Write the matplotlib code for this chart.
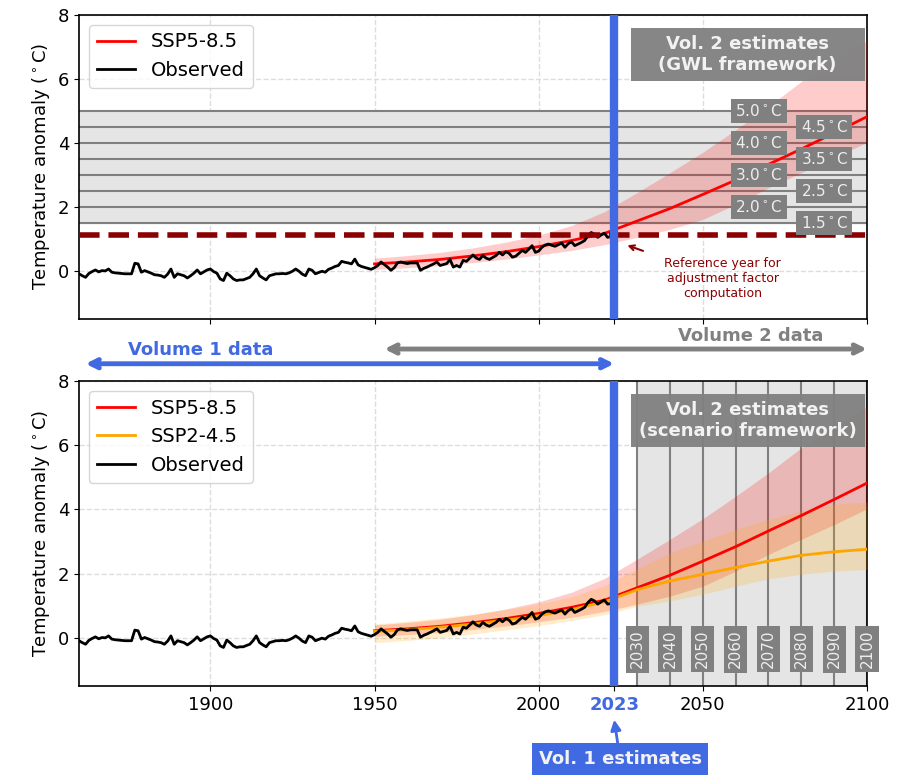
import numpy as np
import matplotlib.pyplot as plt
from matplotlib.patches import Rectangle

# observed annual anomaly, 1860-2023
obs_years = np.arange(1860, 2024)
obs_vals = [
    -0.09, -0.15, -0.20, -0.08, -0.02, 0.03, -0.03, 0.01, 0.00, 0.06,
    -0.04, -0.06, -0.07, -0.08, -0.09, -0.09, -0.09, 0.24, 0.22, -0.04,
    0.01, -0.03, -0.07, -0.12, -0.13, -0.15, -0.20, -0.10, 0.06, -0.20,
    -0.09, -0.12, -0.15, -0.22, -0.15, -0.07, 0.03, -0.09, -0.03, 0.03,
    0.06, -0.02, -0.07, -0.25, -0.30, -0.07, -0.15, -0.25, -0.30, -0.28,
    -0.28, -0.24, -0.20, -0.09, 0.06, -0.15, -0.22, -0.28, -0.15, -0.12,
    -0.09, -0.09, -0.08, -0.09, -0.06, -0.01, 0.06, -0.01, -0.10, -0.15,
    0.06, 0.02, -0.09, -0.05, -0.01, -0.04, 0.05, 0.09, 0.14, 0.17,
    0.30, 0.27, 0.25, 0.22, 0.37, 0.19, 0.14, 0.11, 0.08, 0.05,
    0.10, 0.17, 0.28, 0.20, 0.12, 0.02, 0.10, 0.25, 0.28, 0.25,
    0.23, 0.25, 0.25, 0.25, 0.02, 0.08, 0.12, 0.17, 0.22, 0.28,
    0.17, 0.20, 0.23, 0.36, 0.12, 0.17, 0.12, 0.33, 0.30, 0.40,
    0.50, 0.40, 0.36, 0.48, 0.40, 0.36, 0.42, 0.48, 0.58, 0.50,
    0.60, 0.55, 0.43, 0.46, 0.55, 0.64, 0.58, 0.68, 0.79, 0.58,
    0.62, 0.74, 0.81, 0.84, 0.80, 0.77, 0.82, 0.87, 0.74, 0.85,
    0.91, 0.79, 0.84, 0.89, 0.95, 1.10, 1.20, 1.15, 1.05, 1.12,
    1.18, 1.05, 1.07, 1.10,
]

# scenario projections (median and range)
ssp_years = [1950, 1960, 1970, 1980, 1990, 2000, 2010, 2020,
             2030, 2040, 2050, 2060, 2070, 2080, 2090, 2100]
ssp585_mid = [0.22, 0.28, 0.36, 0.47, 0.60, 0.76, 0.95, 1.17,
              1.56, 1.95, 2.39, 2.84, 3.33, 3.81, 4.31, 4.82]
ssp585_lo = [0.05, 0.10, 0.17, 0.26, 0.37, 0.50, 0.64, 0.82,
             1.05, 1.30, 1.61, 2.08, 2.60, 3.07, 3.53, 4.02]
ssp585_hi = [0.40, 0.48, 0.58, 0.72, 0.90, 1.12, 1.42, 1.85,
             2.45, 3.07, 3.71, 4.41, 5.14, 5.92, 6.60, 7.20]
ssp245_mid = [0.20, 0.25, 0.33, 0.43, 0.55, 0.69, 0.88, 1.12,
              1.50, 1.77, 1.98, 2.19, 2.39, 2.57, 2.68, 2.76]
ssp245_lo = [-0.15, -0.08, 0.00, 0.12, 0.25, 0.38, 0.54, 0.72,
             0.99, 1.15, 1.36, 1.61, 1.84, 1.98, 2.08, 2.13]
ssp245_hi = [0.43, 0.52, 0.62, 0.74, 0.88, 1.05, 1.28, 1.62,
             2.15, 2.65, 3.01, 3.38, 3.69, 3.95, 4.16, 4.23]

gwl_levels = [1.5, 2.0, 2.5, 3.0, 3.5, 4.0, 4.5, 5.0]
decades = [2030, 2040, 2050, 2060, 2070, 2080, 2090, 2100]
ref_year = 2023
ref_level = 1.13

fig = plt.figure(figsize=(9.05, 7.76), dpi=100)
ax1 = fig.add_axes([0.0873, 0.589, 0.8707, 0.3918])
ax2 = fig.add_axes([0.0873, 0.116, 0.8707, 0.393], sharex=ax1)

lbl_box = dict(facecolor='gray', edgecolor='none', pad=3)


def title_box(ax, txt):
    ax.add_patch(Rectangle((0.70, 0.783), 0.297, 0.174, transform=ax.transAxes,
                           facecolor='gray', edgecolor='none', alpha=0.95, zorder=7))
    ax.text(0.8485, 0.870, txt, transform=ax.transAxes, ha='center', va='center',
            fontsize=13, fontweight='bold', color='#f2f2f2', zorder=8)


# ---- top panel: GWL framework
ax1.axhspan(gwl_levels[0], gwl_levels[-1], color='#e5e5e5', zorder=2)
for lvl in gwl_levels:
    ax1.axhline(lvl, color='gray', lw=1.5, zorder=2.5)
ax1.fill_between(ssp_years, ssp585_lo, ssp585_hi, color='red', alpha=0.2, lw=0, zorder=3)
ax1.plot(ssp_years, ssp585_mid, color='red', lw=2, label='SSP5-8.5', zorder=4)
ax1.plot(obs_years, obs_vals, color='black', lw=2, label='Observed', zorder=5)
ax1.axhline(ref_level, color='darkred', ls='--', lw=4, zorder=5)
ax1.axvline(ref_year, color='royalblue', lw=6, zorder=6)
for i, lvl in enumerate(gwl_levels):
    xl = 2087 if i % 2 == 0 else 2067
    ax1.text(xl, lvl, f'{lvl:.1f}$^\\circ$C', ha='center', va='center', fontsize=11,
             color='#eeeeee', bbox=lbl_box, zorder=7)
title_box(ax1, 'Vol. 2 estimates\n(GWL framework)')
ax1.annotate('Reference year for\nadjustment factor\ncomputation', xy=(2027, 0.8),
             xytext=(2056, -0.25), ha='center', va='center', fontsize=9, color='darkred',
             arrowprops=dict(arrowstyle='->', color='darkred', lw=1.5, shrinkA=14, shrinkB=0),
             zorder=7)
ax1.legend(loc='upper left', fontsize=14)

# volume arrows between panels
ax1.annotate('', xy=(1953, -2.44), xytext=(2100, -2.44), annotation_clip=False,
             arrowprops=dict(arrowstyle='<->', color='gray', lw=3.5, mutation_scale=15,
                             shrinkA=0, shrinkB=0))
ax1.text(2064.5, -2.02, 'Volume 2 data', ha='center', va='center', fontsize=13,
         fontweight='bold', color='gray', clip_on=False)
ax1.annotate('', xy=(1862, -2.9), xytext=(2023, -2.9), annotation_clip=False,
             arrowprops=dict(arrowstyle='<->', color='royalblue', lw=3.5, mutation_scale=15,
                             shrinkA=0, shrinkB=0))
ax1.text(1897, -2.48, 'Volume 1 data', ha='center', va='center', fontsize=13,
         fontweight='bold', color='royalblue', clip_on=False)

# ---- bottom panel: scenario framework
ax2.axvspan(decades[0], decades[-1], color='#e5e5e5', zorder=2)
for d in decades:
    ax2.axvline(d, color='gray', lw=1.5, zorder=2.5)
ax2.fill_between(ssp_years, ssp585_lo, ssp585_hi, color='red', alpha=0.2, lw=0, zorder=3)
ax2.fill_between(ssp_years, ssp245_lo, ssp245_hi, color='orange', alpha=0.2, lw=0, zorder=3)
ax2.plot(ssp_years, ssp585_mid, color='red', lw=2, label='SSP5-8.5', zorder=4)
ax2.plot(ssp_years, ssp245_mid, color='orange', lw=2, label='SSP2-4.5', zorder=4)
ax2.plot(obs_years, obs_vals, color='black', lw=2, label='Observed', zorder=5)
ax2.axvline(ref_year, color='royalblue', lw=6, zorder=6)
for d in decades:
    ax2.text(d, -0.35, str(d), rotation=90, ha='center', va='center', fontsize=11,
             color='#eeeeee', bbox=lbl_box, zorder=7)
title_box(ax2, 'Vol. 2 estimates\n(scenario framework)')
ax2.legend(loc='upper left', fontsize=14)
ax2.annotate('Vol. 1 estimates', xy=(ref_year, -2.55), xytext=(2024.8, -3.78),
             ha='center', va='center', fontsize=13, fontweight='bold', color='#f2f2f2',
             annotation_clip=False,
             bbox=dict(facecolor='royalblue', edgecolor='none', pad=5),
             arrowprops=dict(arrowstyle='-|>', color='royalblue', lw=2, mutation_scale=15,
                             shrinkA=0, shrinkB=0))

for ax in (ax1, ax2):
    ax.set_xlim(1860, 2100)
    ax.set_ylim(-1.5, 8)
    ax.set_yticks([0, 2, 4, 6, 8])
    ax.grid(True, ls='--', color='#dddddd', lw=1)
    ax.tick_params(labelsize=13)
    ax.set_ylabel('Temperature anomaly ($^\\circ$C)', fontsize=13)
    for s in ax.spines.values():
        s.set_linewidth(1.2)

ax2.set_xticks([1900, 1950, 2000, 2023, 2050, 2100])
ax1.tick_params(labelbottom=False)
for t in ax2.get_xticklabels():
    if t.get_text() == '2023':
        t.set_color('royalblue')
        t.set_fontweight('bold')

fig.savefig('out.png', dpi=100)
